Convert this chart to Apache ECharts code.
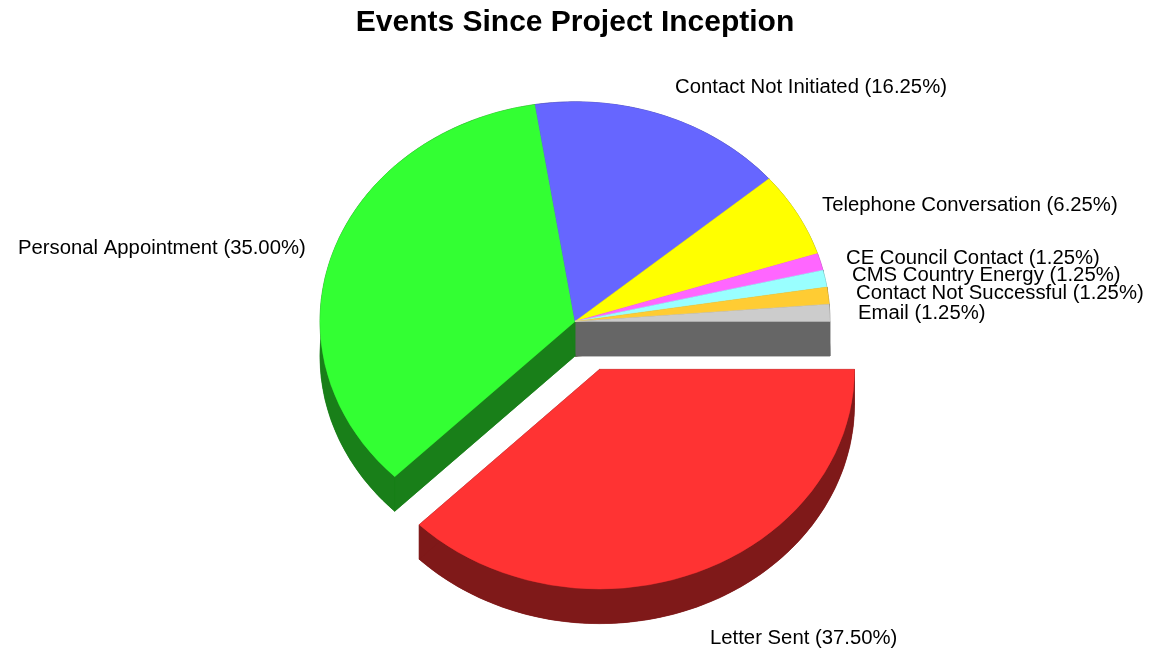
<!DOCTYPE html>
<html>
<head>
<meta charset="utf-8">
<style>html,body{margin:0;padding:0;background:#fff}#c{width:1170px;height:652px}</style>
<script src="https://cdn.jsdelivr.net/npm/echarts@6/dist/echarts.min.js"></script>
</head>
<body>
<div id="c"></div>
<script>
// Data, clockwise from 3 o'clock
const categories = ['Letter Sent','Personal Appointment','Contact Not Initiated','Telephone Conversation','CE Council Contact','CMS Country Energy','Contact Not Successful','Email'];
const shares = [37.5,35,16.25,6.25,1.25,1.25,1.25,1.25];
const explodedShift = [[24.5,48],[0,0],[0,0],[0,0],[0,0],[0,0],[0,0],[0,0]];
const topColors = ['#FF3333','#33FF33','#6666FF','#FFFF00','#FF66FF','#99FFFF','#FFCC33','#CCCCCC'];
const sideColors = ['#7F1919','#197F19','#33337F','#7F7F00','#7F337F','#4C7F7F','#7F6619','#666666'];
const sideOrder = [2,3,4,5,6,7,1,0];
const labelAnchors = [[710,638],[18,248],[675,87],[822,205],[846,258],[852,275],[856,293],[858,313]];

// Pie geometry
const CX = 575, CY = 321.4, RX = 255, RY = 219.6, DEPTH = 34.6;
const total = shares.reduce((a,b)=>a+b,0);
const startAngles = [];
shares.reduce((acc,v,i)=>{startAngles[i]=acc;return acc+v/total*Math.PI*2;},0);
const endAngle = i => startAngles[i] + shares[i]/total*Math.PI*2;
const px = (i,a) => CX + explodedShift[i][0] + RX*Math.cos(a);
const py = (i,a,d) => CY + explodedShift[i][1] + RY*Math.sin(a) + d;

function sector(i, dy, fill){
  return {
    type:'sector',
    x: CX + explodedShift[i][0],
    y: CY + explodedShift[i][1] + dy,
    scaleY: RY/RX,
    shape:{cx:0,cy:0,r0:0,r:RX,startAngle:startAngles[i],endAngle:endAngle(i),clockwise:true},
    style:{fill:fill,stroke:fill,lineWidth:0.5,lineJoin:'miter'}
  };
}
function wall(i,a,fill){
  const ax = CX + explodedShift[i][0], ay = CY + explodedShift[i][1];
  return {type:'polygon',shape:{points:[[ax,ay],[px(i,a),py(i,a,0)],[px(i,a),py(i,a,DEPTH)],[ax,ay+DEPTH]]},
    style:{fill:fill,stroke:fill,lineWidth:0.5}};
}
function rim(i,fill){
  const a0 = startAngles[i], a1 = endAngle(i), n = Math.max(2,Math.ceil((a1-a0)/0.01));
  const upper = [], lower = [];
  for(let k=0;k<=n;k++){
    const a = a0+(a1-a0)*k/n;
    upper.push([px(i,a),py(i,a,0)]);
    lower.push([px(i,a),py(i,a,DEPTH)]);
  }
  return {type:'polygon',shape:{points:upper.concat(lower.reverse())},style:{fill:fill,stroke:fill,lineWidth:0.5}};
}
function sideItem(params){
  const i = sideOrder[params.dataIndex], c = sideColors[i];
  return {type:'group',children:[sector(i,DEPTH,c),rim(i,c),wall(i,startAngles[i],c),wall(i,endAngle(i),c)]};
}
function topItem(params){
  return sector(params.dataIndex,0,topColors[params.dataIndex]);
}
function labelItem(params){
  const i = params.dataIndex;
  return {type:'text',x:labelAnchors[i][0],y:labelAnchors[i][1],scaleX:1.015,
    style:{text:categories[i]+' ('+shares[i].toFixed(2)+'%)',fill:'#000',
      font:'20px "Liberation Sans", Arial, sans-serif',textAlign:'left',textVerticalAlign:'middle'}};
}
const seriesData = categories.map((n,i)=>({name:n,value:shares[i]}));
const chart = echarts.init(document.getElementById('c'),null,{renderer:'canvas'});
chart.setOption({
  animation:false,
  backgroundColor:'#fff',
  title:{text:'Events Since Project Inception',left:575,top:8,textAlign:'center',padding:0,
    textStyle:{fontFamily:'"Liberation Sans", Arial, sans-serif',fontWeight:'bold',fontSize:30,color:'#000'}},
  series:[
    {type:'custom',coordinateSystem:'none',z:1,silent:true,renderItem:sideItem,data:seriesData},
    {type:'custom',coordinateSystem:'none',z:2,silent:true,renderItem:topItem,data:seriesData},
    {type:'custom',coordinateSystem:'none',z:3,silent:true,renderItem:labelItem,data:seriesData}
  ]
});
</script>
</body>
</html>
